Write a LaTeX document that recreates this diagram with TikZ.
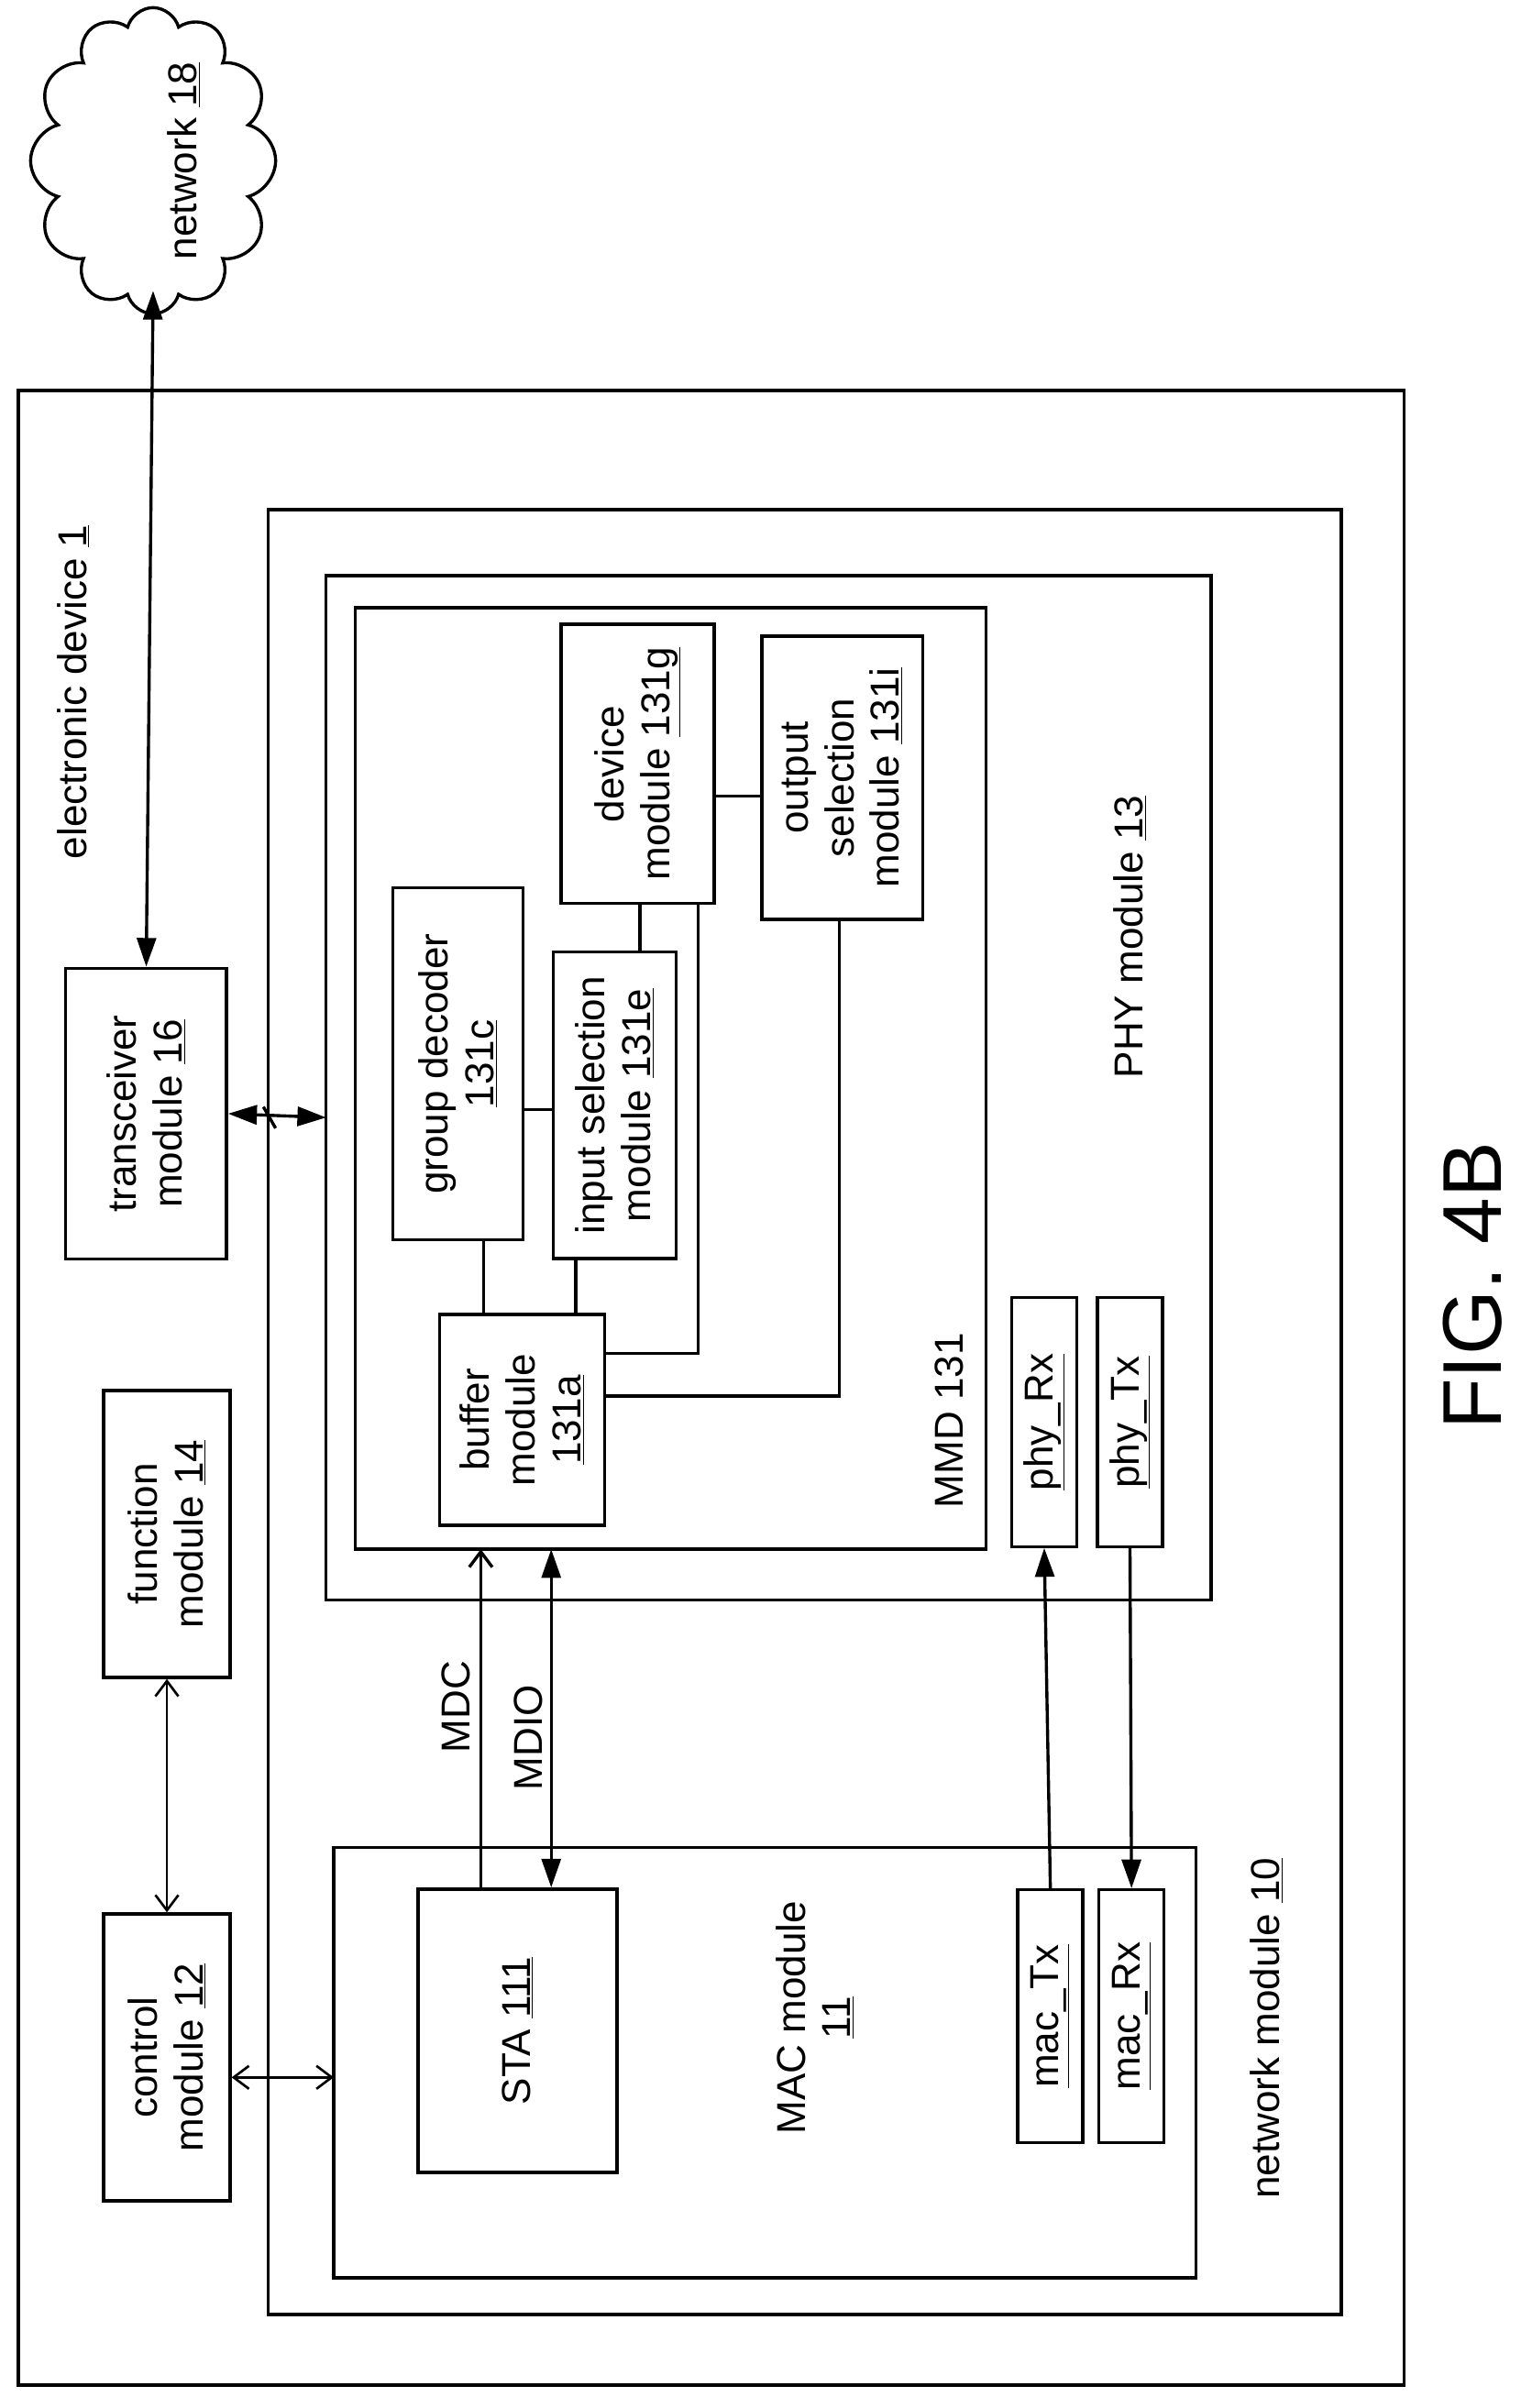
\documentclass[tikz,border=0pt]{standalone}
\usepackage{fontspec}
\setmainfont{Liberation Sans}
\usetikzlibrary{arrows.meta}
\usetikzlibrary{shapes.symbols}

\begin{document}
\begin{tikzpicture}[x=0.04cm, y=-0.04cm, line width=2.3pt,
  txt/.style={rotate=90, align=center, font=\fontsize{30}{34}\selectfont},
  box/.style={draw, rectangle},
  dbl/.style={{Triangle[length=7.5mm,width=5mm]}-{Triangle[length=7.5mm,width=5mm]}},
  thin arrows/.style={line width=1.8pt, {Straight Barb[length=4mm,width=6mm]}-{Straight Barb[length=4mm,width=6mm]}}]
\useasboundingbox (0,0) rectangle (1000,1573);

% outer boxes
\draw (12,255) rectangle (917,1558);
\draw (175,333) rectangle (876,1512);
\draw (213,376) rectangle (791,1045);
\draw (232,397) rectangle (644,1012);
\draw (218,1207) rectangle (781,1488);

% cloud
\node[cloud, cloud puffs=12, draw, minimum width=6.4cm, minimum height=8cm, aspect=0.8] (cloud) at (100,105) {};
\node[txt] (net18) at (120,105) {network \underline{18}};

% modules
\node[box, txt, minimum width=7.6cm, minimum height=4.2cm] (trx) at (95.5,727.5) {transceiver\\module \underline{16}};
\node[box, txt, minimum width=7.5cm, minimum height=3.3cm] (func) at (109,1002) {function\\module \underline{14}};
\node[box, txt, minimum width=7.5cm, minimum height=3.3cm] (ctrl) at (109,1344) {control\\module \underline{12}};

\node[box, txt, minimum width=7.3cm, minimum height=4cm] (dev) at (416.5,499) {device\\module \underline{131g}};
\node[box, txt, minimum width=7.4cm, minimum height=4.2cm] (outsel) at (550,508) {output\\selection\\module \underline{131i}};
\node[box, txt, minimum width=9.2cm, minimum height=3.4cm] (grp) at (299,695) {group decoder\\\underline{131c}};
\node[box, txt, minimum width=8cm, minimum height=3.2cm] (insel) at (401.5,722) {input selection\\module \underline{131e}};
\node[box, txt, minimum width=5.5cm, minimum height=4.3cm] (buf) at (341,927.5) {buffer\\module\\\underline{131a}};
\node[box, txt, minimum width=6.5cm, minimum height=1.7cm] (phyrx) at (682,929) {\underline{phy\_Rx}};
\node[box, txt, minimum width=6.5cm, minimum height=1.7cm] (phytx) at (738,929) {\underline{phy\_Tx}};
\node[box, txt, minimum width=7.4cm, minimum height=5.2cm] (sta) at (338,1326.5) {STA \underline{111}};
\node[box, txt, minimum width=6.6cm, minimum height=1.7cm] (mactx) at (686,1317) {\underline{mac\_Tx}};
\node[box, txt, minimum width=6.6cm, minimum height=1.7cm] (macrx) at (739,1317) {\underline{mac\_Rx}};

% labels
\node[txt] (lbldev) at (48,452) {electronic device \underline{1}};
\node[txt] (lblphy) at (738,612) {PHY module \underline{13}};
\node[txt] (lblmmd) at (620,928) {MMD 131};
\node[txt] (lblmac) at (532,1318) {MAC module\\\underline{11}};
\node[txt] (lblnet) at (827,1325) {network module \underline{10}};
\node[txt] (lblmdc) at (298,1115) {MDC};
\node[txt] (lblmdio) at (345,1135) {MDIO};
\node[rotate=90, font=\fontsize{62}{70}\selectfont] (fig) at (962,840) {FIG. 4B};

\coordinate (netb) at (175,730);
\coordinate (phyl) at (213,730);
\coordinate (mmdb1) at (314,1012);
\coordinate (mmdb2) at (360,1012);
\coordinate (macl) at (218,1357);

% connectors
\draw[dbl] (100,190) -- (trx.east);
\draw[dbl] (trx.south) -- (phyl);
\draw (netb) ++(-3,-7) -- ++(8,14);
\draw[thin arrows] (func.west) -- (ctrl.east);
\draw[thin arrows] (ctrl.south |- macl) -- (macl);
\draw[-{Straight Barb[length=4mm,width=6mm]}] (sta.east -| mmdb1) -- (mmdb1);
\draw[dbl] (mmdb2) -- (sta.east -| mmdb2);
\draw[-{Triangle[length=7.5mm,width=5mm]}] (mactx.east) -- (phyrx.west);
\draw[-{Triangle[length=7.5mm,width=5mm]}] (phytx.west) -- (macrx.east);
\draw (grp.west -| 316,0) -- (buf.east -| 316,0);
\draw (insel.west -| 376,0) -- (buf.east -| 376,0);
\draw (grp.south |- 0,725) -- (insel.north |- 0,725);
\draw (dev.west -| 418,0) -- (insel.east -| 418,0);
\draw (buf.south |- 0,884) -- (456,884) -- (dev.west -| 456,0);
\draw (buf.south |- 0,912) -- (548,912) -- (outsel.west -| 548,0);
\draw (dev.south |- 0,520) -- (outsel.north |- 0,520);
\end{tikzpicture}
\end{document}
